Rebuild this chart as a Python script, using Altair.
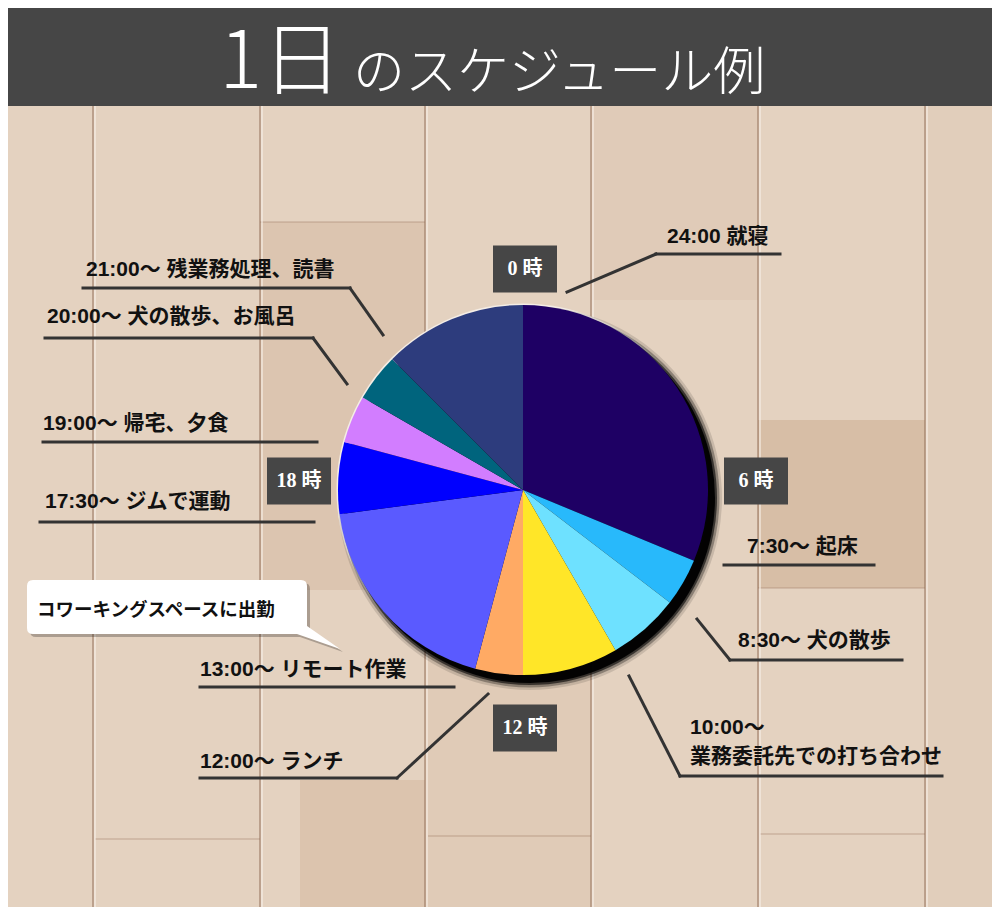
import math
import altair as alt
import pandas as pd

# ---------------- data ----------------
activities = ["就寝", "起床", "犬の散歩", "業務委託先での打ち合わせ", "ランチ",
              "リモート作業", "ジムで運動", "帰宅、夕食", "犬の散歩、お風呂", "残業務処理、読書"]
start_times = ["0:00", "7:30", "8:30", "10:00", "12:00", "13:00", "17:30", "19:00", "20:00", "21:00"]
hours = [7.5, 1, 1.5, 2, 1, 4.5, 1.5, 1, 1, 3]
slice_colors = ["#1e0064", "#28b9fb", "#6ee1ff", "#ffe628", "#ffaa64",
                "#5a5aff", "#0000ff", "#d27dff", "#00647d", "#2d3c7d"]

hour_marks = ["0 時", "6 時", "12 時", "18 時"]

label_texts = ["24:00 就寝", "7:30〜  起床", "8:30〜 犬の散歩", "10:00〜", "業務委託先での打ち合わせ",
               "12:00〜  ランチ", "13:00〜  リモート作業", "17:30〜  ジムで運動",
               "19:00〜 帰宅、夕食", "20:00〜 犬の散歩、お風呂", "21:00〜 残業務処理、読書"]

title_main = "1日"
title_sub = "のスケジュール例"
bubble_text = "コワーキングスペースに出勤"

# ---------------- layout (reference-canvas pixels) ----------------
OFF = 8
W, H = 984, 899
CX, CY, R = 523, 490, 185

label_pos = [(667, 237), (747, 547), (738, 641), (690, 728), (690, 757), (200, 762),
             (200, 670), (45, 502), (43, 424), (47, 317), (86, 270)]
leader_segments = [
    (656, 254, 780, 254), (656, 254, 567, 292),
    (724, 565, 874, 565),
    (730, 660, 902, 660), (730, 660, 697, 619),
    (680, 776, 942, 776), (680, 776, 629, 676),
    (200, 778, 397, 778), (397, 778, 488, 694),
    (200, 687, 454, 687),
    (40, 522, 314, 522),
    (43, 442, 317, 442),
    (45, 338, 313, 338), (313, 338, 347, 384),
    (83, 288, 350, 288), (350, 288, 383, 335),
]
hour_box_centers = [(525, 269), (756, 481), (525, 728), (299, 481)]
BOX_W, BOX_H = 64, 47
plank_x = [93, 260, 425, 591, 758, 925]
# decorative wood panels: x1, x2, y1, y2, colour, opacity
panels = [
    (260, 425, 222, 590, "#c9a98a", 0.3),
    (591, 758, 106, 300, "#d6bea4", 0.3),
    (758, 925, 420, 588, "#c29f80", 0.4),
    (425, 591, 590, 915, "#d2b79c", 0.25),
    (300, 425, 780, 915, "#c9a585", 0.3),
    (925, 1000, 106, 915, "#d8c2aa", 0.25),
]
joints = [(95, 260, 839), (428, 591, 836), (760, 925, 834), (758, 925, 588), (260, 425, 222)]
BUBBLE_X, BUBBLE_Y = 27, 580
BUBBLE_PATH = ("M6,0 H274 Q280,0 280,6 V46 L313,69 L270,54 H6 Q0,54 0,48 V6 Q0,0 6,0 Z")

JP = "Noto Sans CJK JP"
LABEL_FONT = "Liberation Sans, Noto Sans CJK JP"
SERIF = "Liberation Serif, DejaVu Serif, Noto Sans CJK JP"
WOOD = "#e4d2c0"
DARK = "#464646"


def px(name):
    return alt.X(name, type="quantitative", scale=None, axis=None)


def py(name):
    return alt.Y(name, type="quantitative", scale=None, axis=None)


layers = []

# wood panels
pdf = pd.DataFrame([{"x1": a - OFF, "x2": b - OFF, "y1": c - OFF, "y2": d - OFF, "c": col, "o": o}
                    for a, b, c, d, col, o in panels])
layers.append(alt.Chart(pdf).mark_rect()
              .encode(x=px("x1"), x2="x2", y=py("y1"), y2="y2",
                      color=alt.Color("c:N", scale=None), opacity=alt.Opacity("o:Q", scale=None)))
jdf = pd.DataFrame([{"x1": a - OFF, "x2": b - OFF, "y": c - OFF} for a, b, c in joints])
layers.append(alt.Chart(jdf).mark_rule(color="#a8866f", strokeWidth=1.2, opacity=0.6)
              .encode(x=px("x1"), x2="x2", y=py("y")))

# wood plank seams
planks = pd.DataFrame({"x": [v - OFF for v in plank_x], "y1": [106 - OFF] * len(plank_x),
                       "y2": [H] * len(plank_x)})
layers.append(alt.Chart(planks).mark_rule(color="#8f6a55", strokeWidth=1.6, opacity=0.6)
              .encode(x=px("x"), y=py("y1"), y2="y2"))
layers.append(alt.Chart(planks.assign(x=planks["x"] + 2)).mark_rule(color="#f7efe6", strokeWidth=1.5, opacity=0.8)
              .encode(x=px("x"), y=py("y1"), y2="y2"))

# title bar
bar = pd.DataFrame({"x1": [0], "x2": [W], "y1": [0], "y2": [106 - OFF]})
layers.append(alt.Chart(bar).mark_rect(color=DARK)
              .encode(x=px("x1"), x2="x2", y=py("y1"), y2="y2"))
t1 = pd.DataFrame({"x": [342 - OFF], "y": [88 - OFF], "text": [title_main]})
layers.append(alt.Chart(t1).mark_text(align="right", baseline="alphabetic", font=JP, fontSize=80,
                                      fontWeight=300, color="white")
              .encode(x=px("x"), y=py("y"), text="text:N"))
t2 = pd.DataFrame({"x": [353 - OFF], "y": [90 - OFF], "text": [title_sub]})
layers.append(alt.Chart(t2).mark_text(align="left", baseline="alphabetic", font=JP, fontSize=52,
                                      fontWeight=300, color="white")
              .encode(x=px("x"), y=py("y"), text="text:N"))

# leader lines
seg = pd.DataFrame([{"x1": a - OFF, "y1": b - OFF, "x2": c - OFF, "y2": d - OFF}
                    for a, b, c, d in leader_segments])
layers.append(alt.Chart(seg).mark_rule(color="#333333", strokeWidth=3, strokeCap="square")
              .encode(x=px("x1"), y=py("y1"), x2="x2", y2="y2"))

# labels
lab = pd.DataFrame({"x": [p[0] - OFF for p in label_pos], "y": [p[1] - OFF for p in label_pos],
                    "text": label_texts})
layers.append(alt.Chart(lab).mark_text(align="left", baseline="middle", font=LABEL_FONT, fontSize=21,
                                       fontWeight="bold", color="#111111")
              .encode(x=px("x"), y=py("y"), text="text:N"))

# hour boxes
hb = pd.DataFrame({"x1": [c[0] - BOX_W / 2 - OFF for c in hour_box_centers],
                   "x2": [c[0] + BOX_W / 2 - OFF for c in hour_box_centers],
                   "y1": [c[1] - BOX_H / 2 - OFF for c in hour_box_centers],
                   "y2": [c[1] + BOX_H / 2 - OFF for c in hour_box_centers],
                   "x": [c[0] - OFF for c in hour_box_centers],
                   "y": [c[1] - OFF for c in hour_box_centers],
                   "text": hour_marks})
layers.append(alt.Chart(hb).mark_rect(color=DARK)
              .encode(x=px("x1"), x2="x2", y=py("y1"), y2="y2"))
layers.append(alt.Chart(hb).mark_text(align="center", baseline="middle", font=SERIF, fontSize=20,
                                      fontWeight="bold", color="white")
              .encode(x=px("x"), y=py("y"), text="text:N"))

# speech bubble
bub = pd.DataFrame({"x": [BUBBLE_X - OFF], "y": [BUBBLE_Y - OFF]})
layers.append(alt.Chart(bub.assign(x=bub["x"] + 3, y=bub["y"] + 3))
              .mark_point(shape=BUBBLE_PATH, size=4, filled=True, color="#000000", opacity=0.25,
                          strokeWidth=0)
              .encode(x=px("x"), y=py("y")))
layers.append(alt.Chart(bub).mark_point(shape=BUBBLE_PATH, size=4, filled=True, color="#ffffff",
                                        opacity=1, strokeWidth=0)
              .encode(x=px("x"), y=py("y")))
bt = pd.DataFrame({"x": [37 - OFF], "y": [610 - OFF], "text": [bubble_text]})
layers.append(alt.Chart(bt).mark_text(align="left", baseline="middle", font=JP, fontSize=18.5,
                                      fontWeight="bold", color="#111111")
              .encode(x=px("x"), y=py("y"), text="text:N"))

# pie rim + shadow
one = pd.DataFrame({"k": [0]})
layers.append(alt.Chart(one).mark_arc(theta=0, theta2=2 * math.pi, radius=R + 1.5, color="#f4ede6")
              .encode(x=alt.value(CX - OFF), y=alt.value(CY - OFF)))
for rr, op in [(R + 7, 0.12), (R + 4.5, 0.3), (R + 2, 0.6), (R, 0.95)]:
    layers.append(alt.Chart(one).mark_arc(theta=0, theta2=2 * math.pi, radius=rr, color="#000000",
                                          opacity=op)
                  .encode(x=alt.value(CX - OFF + 7), y=alt.value(CY - OFF + 8)))

# pie
pie_df = pd.DataFrame({"activity": activities, "start": start_times, "hours": hours,
                       "idx": list(range(len(hours)))})
layers.append(alt.Chart(pie_df).mark_arc(radius=R, strokeWidth=0)
              .encode(theta=alt.Theta("hours:Q", stack=True),
                      color=alt.Color("activity:N", scale=alt.Scale(domain=activities, range=slice_colors),
                                      legend=None),
                      order=alt.Order("idx:Q"),
                      x=alt.value(CX - OFF), y=alt.value(CY - OFF)))

chart = (alt.layer(*layers)
         .properties(width=W, height=H, padding=0, autosize="none", background=WOOD)
         .configure_view(strokeWidth=0))

chart.save("out.html", embed_options={"renderer": "svg", "actions": False})
